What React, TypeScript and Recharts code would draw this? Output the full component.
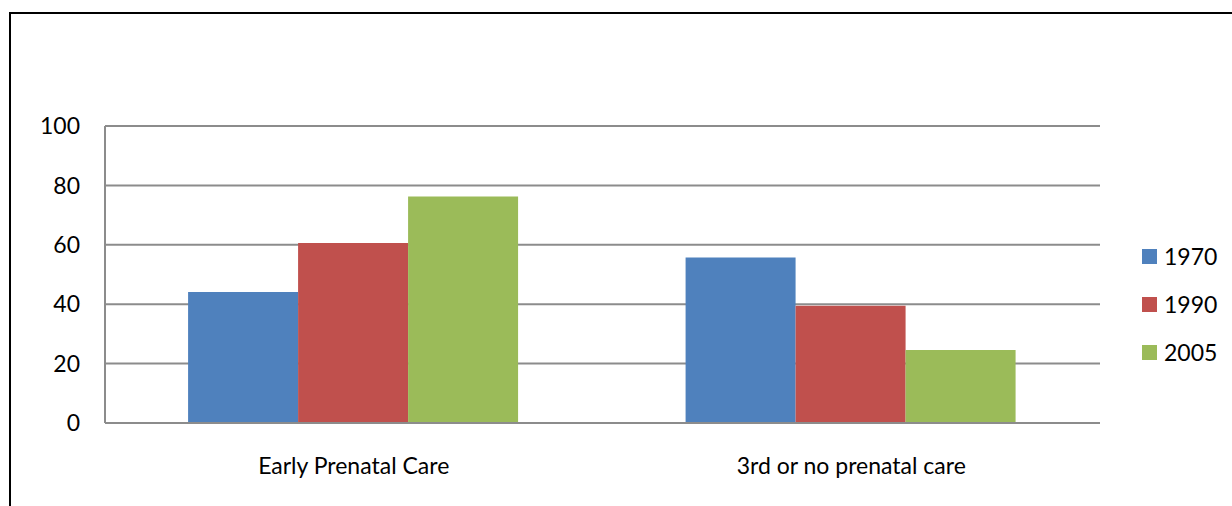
import { Bar, BarChart, CartesianGrid, XAxis, YAxis } from "recharts";

const categories = ["Early Prenatal Care", "3rd or no prenatal care"];
const series1970 = [44.1, 55.7];
const series1990 = [60.6, 39.5];
const series2005 = [76.3, 24.6];
const yTicks = [0, 20, 40, 60, 80, 100];

const seriesMeta = [
  { key: "1970", color: "#4F81BD" },
  { key: "1990", color: "#C0504D" },
  { key: "2005", color: "#9BBB59" },
];

const data = categories.map((name, i) => ({
  name,
  "1970": series1970[i],
  "1990": series1990[i],
  "2005": series2005[i],
}));

const FONT = "Lato, 'Open Sans', sans-serif";
const FONT_SIZE = 23;
const GRID = "#8c8c8c";

function LegendBox() {
  return (
    <div
      style={{
        position: "absolute",
        left: 1142,
        top: 232,
        fontFamily: FONT,
        fontSize: FONT_SIZE,
        color: "#000",
      }}
    >
      {seriesMeta.map((s) => (
        <div key={s.key} style={{ display: "flex", alignItems: "center", height: 48 }}>
          <span style={{ width: 15, height: 15, background: s.color, marginRight: 7 }} />
          <span>{s.key}</span>
        </div>
      ))}
    </div>
  );
}

export default function App() {
  return (
    <div style={{ position: "absolute", left: 0, top: 0, width: 1232, height: 506, background: "#fff", overflow: "hidden" }}>
      <div
        style={{
          position: "absolute",
          left: 9,
          top: 12,
          width: 1300,
          height: 600,
          borderLeft: "2px solid #000",
          borderTop: "2px solid #000",
        }}
      />
      <div style={{ position: "absolute", left: 0, top: 0 }}>
        <BarChart
          width={1232}
          height={506}
          data={data}
          margin={{ top: 126, right: 132, left: 0, bottom: 23 }}
          barCategoryGap="16.7%"
          barGap={0}
        >
          <CartesianGrid horizontal vertical={false} stroke={GRID} strokeWidth={2} />
          <XAxis
            dataKey="name"
            height={60}
            interval={0}
            tickSize={0}
            tickMargin={35}
            axisLine={{ stroke: GRID, strokeWidth: 2 }}
            tickLine={false}
            tick={{ fill: "#000", fontSize: FONT_SIZE, fontFamily: FONT }}
          />
          <YAxis
            width={105}
            domain={[0, 100]}
            ticks={yTicks}
            interval={0}
            tickSize={0}
            tickMargin={25}
            axisLine={{ stroke: GRID, strokeWidth: 2 }}
            tickLine={false}
            tick={{ fill: "#000", fontSize: FONT_SIZE, fontFamily: FONT }}
          />
          {seriesMeta.map((s) => (
            <Bar key={s.key} dataKey={s.key} fill={s.color} isAnimationActive={false} />
          ))}
        </BarChart>
      </div>
      <LegendBox />
    </div>
  );
}
